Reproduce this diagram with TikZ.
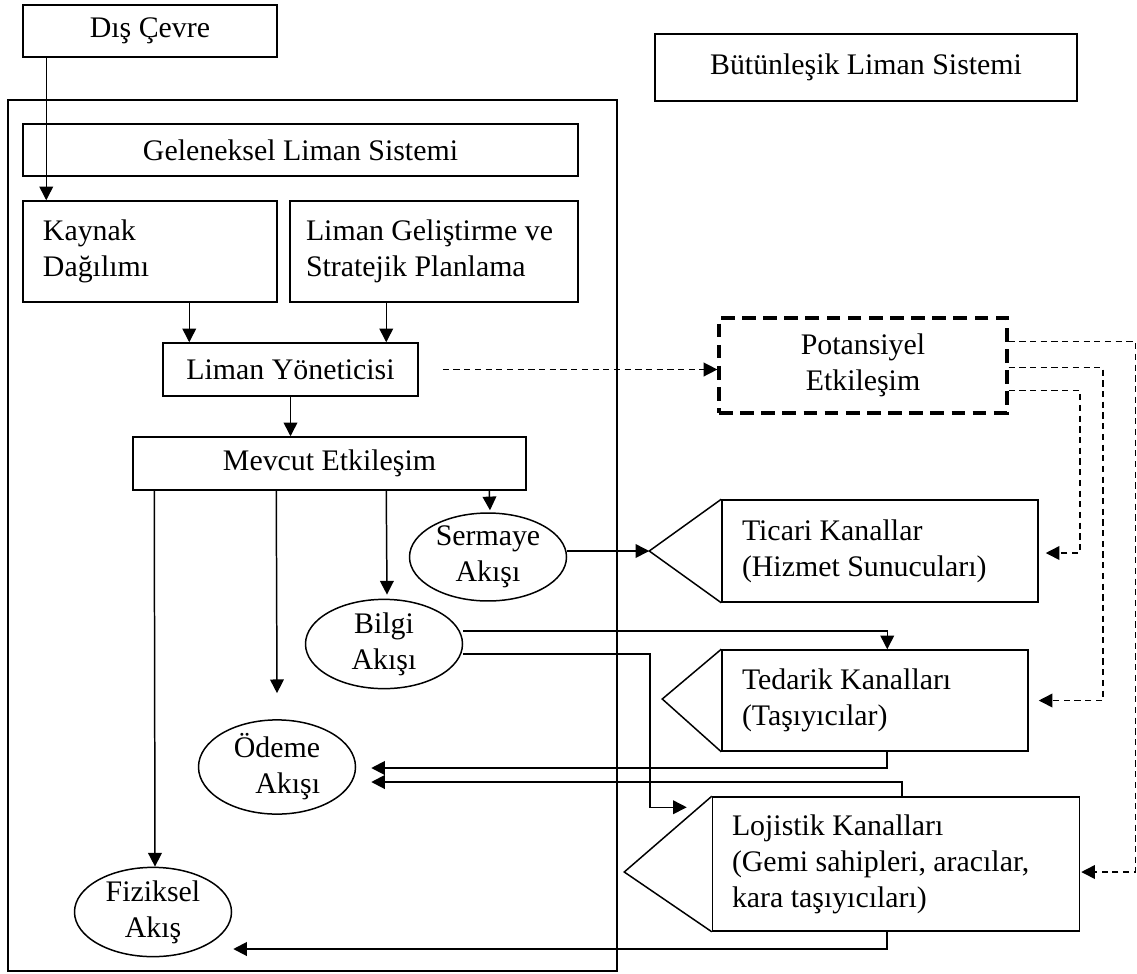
\documentclass[tikz,border=0pt]{standalone}
\usepackage{fontspec}
\setmainfont{Liberation Serif}
\usetikzlibrary{arrows.meta,calc,shapes.geometric}

\begin{document}
\begin{tikzpicture}[x=0.402pt,y=-0.402pt,line width=0.6pt,
    every node/.style={font=\fontsize{12}{14.5}\selectfont,align=center,inner sep=0pt},
    kutu/.style 2 args={draw,rectangle,minimum width=#1*0.402pt,minimum height=#2*0.402pt},
    akis/.style={draw,ellipse,minimum width=157*0.402pt,minimum height=85*0.402pt},
    ok/.style={-{Triangle[length=5.5pt,width=5.5pt]}},
    kesik/.style={dash pattern=on 2.5pt off 1.8pt}]
  \useasboundingbox (0,0) rectangle (1137,973);

  % kutular
  \node[kutu={254}{52}] (dis) at (150,31) {Dış Çevre};
  \node[kutu={422}{67}] (butun) at (866,67.5) {Bütünleşik Liman Sistemi};
  \node[kutu={609}{871}] (cerceve) at (312.5,535.5) {};
  \node[kutu={555}{52}] (gelenek) at (300.5,150) {Geleneksel Liman Sistemi};
  \node[kutu={254}{101},text width=214*0.402pt,align=flush left] (kaynak) at (150,251.5) {Kaynak\\Dağılımı};
  \node[kutu={288}{101},text width=256*0.402pt,align=flush left] (gelistirme) at (434,251.5) {Liman Geliştirme ve\\Stratejik Planlama};
  \node[kutu={255}{53}] (yonetici) at (290.5,369.5) {Liman Yöneticisi};
  \node[kutu={393}{53}] (mevcut) at (329.5,463.5) {Mevcut Etkileşim};
  \node[kutu={288}{95},line width=1.3pt,dash pattern=on 5.5pt off 3pt] (potansiyel) at (863,365.5) {Potansiyel\\Etkileşim};
  \node[kutu={316}{102},text width=276*0.402pt,align=flush left] (ticari) at (880,551) {Ticari Kanallar\\(Hizmet Sunucuları)};
  \node[kutu={306}{101},text width=266*0.402pt,align=flush left] (tedarik) at (875,700.5) {Tedarik Kanalları\\(Taşıyıcılar)};
  \node[kutu={367}{134},text width=328*0.402pt,align=flush left] (lojistik) at (896,864) {Lojistik Kanalları\\(Gemi sahipleri, aracılar,\\kara taşıyıcıları)};

  % akislar
  \node[akis] (sermaye) at (488,557) {Sermaye\\Akışı};
  \node[akis] (bilgi) at (384,644) {Bilgi\\Akışı};
  \node[akis,align=right] (odeme) at (277,767) {Ödeme\\Akışı};
  \node[akis,minimum height=89*0.402pt] (fiziksel) at (153,912) {Fiziksel\\Akış};

  % kanal uclari
  \coordinate (ticariuc) at ($(ticari.west)+(-72,0)$);
  \coordinate (tedarikuc) at ($(tedarik.west)+(-59,-1.5)$);
  \coordinate (lojistikuc) at ($(lojistik.west)+(-87.5,8)$);
  \draw (ticari.north west) -- (ticariuc) -- (ticari.south west);
  \draw (tedarik.north west) -- (tedarikuc) -- (tedarik.south west);
  \draw (lojistik.north west) -- (lojistikuc) -- (lojistik.south west);

  % oklar
  \draw[ok] ($(dis.south west)+(24,0)$) -- ($(kaynak.north west)+(24,0)$);
  \draw[ok] ($(kaynak.south west)+(167,0)$) -- ($(yonetici.north west)+(27,0)$);
  \draw[ok] ($(gelistirme.south west)+(97,0)$) -- ($(yonetici.north west)+(224,0)$);
  \draw[ok] (yonetici.south) -- (yonetici.south |- mevcut.north);
  \draw[ok,kesik] ($(yonetici.east)+(24,0)$) -- (potansiyel.west |- yonetici.east);
  \draw[ok] ($(mevcut.south west)+(22,0)$) -- ($(fiziksel.north)+(2,0)$);
  \draw[ok] ($(mevcut.south west)+(144,0)$) -- ($(odeme.north)+(0,-26)$);
  \draw[ok] ($(mevcut.south west)+(254,0)$) -- ($(bilgi.north)+(3,-4)$);
  \draw[ok] ($(mevcut.south west)+(357,0)$) -- ($(sermaye.north)+(2,-2)$);
  \draw[ok] (sermaye.east |- ticariuc) -- (ticariuc);
  \draw[ok] ($(bilgi.east)+(0,-13)$) -| ($(tedarik.north west)+(166,0)$);
  \draw[ok] ($(bilgi.east)+(0,10)$) -| ($(lojistik.north west)+(-62,11)$) -- ($(lojistik.north west)+(-25,11)$);
  \draw[ok,line width=0.8pt] ($(tedarik.south west)+(166,0)$) |- ($(odeme.east)+(15,1)$);
  \draw[ok,line width=0.8pt] ($(lojistik.north west)+(190,0)$) |- ($(odeme.east)+(15,15)$);
  \draw[ok,line width=0.8pt] ($(lojistik.south west)+(175,0)$) |- ($(fiziksel.east)+(1,37)$);
  \draw[ok,kesik] ($(potansiyel.east)+(0,25)$) -| ($(ticari.east)+(41,2)$) -- ($(ticari.east)+(7,2)$);
  \draw[ok,kesik] ($(potansiyel.east)+(0,2)$) -| ($(tedarik.east)+(74,0)$) -- ($(tedarik.east)+(10,0)$);
  \draw[ok,kesik] ($(potansiyel.east)+(0,-24)$) -| ($(lojistik.east)+(55,8)$) -- ($(lojistik.east)+(1,8)$);
\end{tikzpicture}
\end{document}
